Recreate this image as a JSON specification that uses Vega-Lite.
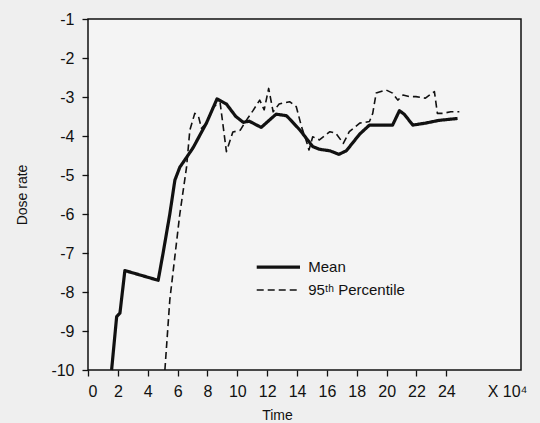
{
  "$schema": "https://vega.github.io/schema/vega-lite/v6.json",
  "width": 433,
  "height": 351,
  "autosize": {"type": "none"},
  "padding": {"left": 88, "top": 19, "right": 19, "bottom": 53},
  "background": "#efefef",
  "config": {
    "font": "Liberation Sans",
    "view": {"stroke": "#111111", "strokeWidth": 1.5, "fill": "#f4f4f4"},
    "axis": {"grid": false, "domain": false, "labelOverlap": false, "tickColor": "#111111", "tickWidth": 1.3, "tickSize": 6, "labelColor": "#111111", "labelFontSize": 16, "titleColor": "#111111", "titleFontWeight": "normal", "labelExpr": "'' + datum.value"}
  },
  "datasets": {
    "curves": [
      {"series": "Mean", "time": 1.58, "dose": -10},
      {"series": "Mean", "time": 1.92, "dose": -8.63},
      {"series": "Mean", "time": 2.14, "dose": -8.54},
      {"series": "Mean", "time": 2.47, "dose": -7.45},
      {"series": "Mean", "time": 4.7, "dose": -7.7},
      {"series": "Mean", "time": 5.03, "dose": -7.0},
      {"series": "Mean", "time": 5.48, "dose": -6.0},
      {"series": "Mean", "time": 5.82, "dose": -5.13},
      {"series": "Mean", "time": 6.15, "dose": -4.8},
      {"series": "Mean", "time": 6.6, "dose": -4.55},
      {"series": "Mean", "time": 7.04, "dose": -4.3},
      {"series": "Mean", "time": 7.93, "dose": -3.67},
      {"series": "Mean", "time": 8.64, "dose": -3.05},
      {"series": "Mean", "time": 9.27, "dose": -3.18},
      {"series": "Mean", "time": 9.9, "dose": -3.5},
      {"series": "Mean", "time": 10.4, "dose": -3.65},
      {"series": "Mean", "time": 10.8, "dose": -3.62},
      {"series": "Mean", "time": 11.6, "dose": -3.78},
      {"series": "Mean", "time": 12.6, "dose": -3.44},
      {"series": "Mean", "time": 13.3, "dose": -3.48},
      {"series": "Mean", "time": 14.2, "dose": -3.85},
      {"series": "Mean", "time": 15.05, "dose": -4.27},
      {"series": "Mean", "time": 15.5, "dose": -4.34},
      {"series": "Mean", "time": 16.2, "dose": -4.38},
      {"series": "Mean", "time": 16.8, "dose": -4.47},
      {"series": "Mean", "time": 17.3, "dose": -4.38},
      {"series": "Mean", "time": 18.2, "dose": -3.95},
      {"series": "Mean", "time": 18.85, "dose": -3.72},
      {"series": "Mean", "time": 19.5, "dose": -3.72},
      {"series": "Mean", "time": 20.4, "dose": -3.72},
      {"series": "Mean", "time": 20.86, "dose": -3.35},
      {"series": "Mean", "time": 21.2, "dose": -3.45},
      {"series": "Mean", "time": 21.75, "dose": -3.72},
      {"series": "Mean", "time": 22.6, "dose": -3.67},
      {"series": "Mean", "time": 23.5, "dose": -3.6},
      {"series": "Mean", "time": 24.75, "dose": -3.55},
      {"series": "P95", "time": 5.15, "dose": -10},
      {"series": "P95", "time": 5.48, "dose": -8.2},
      {"series": "P95", "time": 6.15, "dose": -6.0},
      {"series": "P95", "time": 6.6, "dose": -4.8},
      {"series": "P95", "time": 6.82, "dose": -3.85},
      {"series": "P95", "time": 7.15, "dose": -3.42},
      {"series": "P95", "time": 7.4, "dose": -3.5},
      {"series": "P95", "time": 7.6, "dose": -3.8},
      {"series": "P95", "time": 7.93, "dose": -3.67},
      {"series": "P95", "time": 8.38, "dose": -3.25},
      {"series": "P95", "time": 8.85, "dose": -3.15},
      {"series": "P95", "time": 9.27, "dose": -4.4},
      {"series": "P95", "time": 9.7, "dose": -3.9},
      {"series": "P95", "time": 10.2, "dose": -3.85},
      {"series": "P95", "time": 10.6, "dose": -3.6},
      {"series": "P95", "time": 11.05, "dose": -3.35},
      {"series": "P95", "time": 11.5, "dose": -3.08},
      {"series": "P95", "time": 11.8, "dose": -3.33},
      {"series": "P95", "time": 12.1, "dose": -2.78},
      {"series": "P95", "time": 12.4, "dose": -3.38},
      {"series": "P95", "time": 12.8, "dose": -3.18},
      {"series": "P95", "time": 13.5, "dose": -3.12},
      {"series": "P95", "time": 13.95, "dose": -3.25},
      {"series": "P95", "time": 14.3, "dose": -3.76},
      {"series": "P95", "time": 14.6, "dose": -4.1},
      {"series": "P95", "time": 14.8, "dose": -4.36},
      {"series": "P95", "time": 15.05, "dose": -4.02},
      {"series": "P95", "time": 15.5, "dose": -4.1},
      {"series": "P95", "time": 16.2, "dose": -3.89},
      {"series": "P95", "time": 16.6, "dose": -3.93},
      {"series": "P95", "time": 17.1, "dose": -4.19},
      {"series": "P95", "time": 17.5, "dose": -3.89},
      {"series": "P95", "time": 18.2, "dose": -3.67},
      {"series": "P95", "time": 18.85, "dose": -3.63},
      {"series": "P95", "time": 19.07, "dose": -3.42},
      {"series": "P95", "time": 19.3, "dose": -2.9},
      {"series": "P95", "time": 19.96, "dose": -2.82},
      {"series": "P95", "time": 20.4, "dose": -2.9},
      {"series": "P95", "time": 20.75, "dose": -3.08},
      {"series": "P95", "time": 21.1, "dose": -2.95},
      {"series": "P95", "time": 21.5, "dose": -2.99},
      {"series": "P95", "time": 21.96, "dose": -2.99},
      {"series": "P95", "time": 22.6, "dose": -3.03},
      {"series": "P95", "time": 23.2, "dose": -2.86},
      {"series": "P95", "time": 23.4, "dose": -3.42},
      {"series": "P95", "time": 23.75, "dose": -3.42},
      {"series": "P95", "time": 24.3, "dose": -3.38},
      {"series": "P95", "time": 24.87, "dose": -3.38}
    ],
    "legendLines": [
      {"series": "Mean", "time": 11.3, "time2": 14.2, "dose": -7.36},
      {"series": "P95", "time": 11.3, "time2": 14.2, "dose": -7.95}
    ],
    "legendText": [
      {"time": 14.75, "dose": -7.36, "label": "Mean"},
      {"time": 14.75, "dose": -7.95, "label": "95ᵗʰ Percentile"}
    ],
    "unit": [
      {"time": 28.1, "dose": -10, "label": "X 10⁴"}
    ]
  },
  "encoding": {
    "x": {"field": "time", "type": "quantitative", "scale": {"domain": [0, 29], "nice": false, "zero": false},
      "axis": {"values": [0, 2, 4, 6, 8, 10, 12, 14, 16, 18, 20, 22, 24], "title": "Time", "titleFontSize": 14, "titleX": 189, "titleY": 49, "titleBaseline": "alphabetic", "labelPadding": 7}},
    "y": {"field": "dose", "type": "quantitative", "scale": {"domain": [-10, -1], "nice": false, "zero": false},
      "axis": {"values": [-10, -9, -8, -7, -6, -5, -4, -3, -2, -1], "title": "Dose rate", "titleFontSize": 14, "titlePadding": 21, "labelPadding": 8}}
  },
  "layer": [
    {
      "data": {"name": "curves"},
      "mark": {"type": "line", "color": "#111111", "strokeJoin": "round"},
      "encoding": {
        "strokeDash": {"field": "series", "type": "nominal", "scale": {"domain": ["Mean", "P95"], "range": [[1, 0], [7, 4]]}, "legend": null},
        "strokeWidth": {"field": "series", "type": "nominal", "scale": {"domain": ["Mean", "P95"], "range": [3.2, 1.6]}, "legend": null}
      }
    },
    {
      "data": {"name": "legendLines"},
      "mark": {"type": "rule", "color": "#111111"},
      "encoding": {
        "x2": {"field": "time2"},
        "strokeDash": {"field": "series", "type": "nominal", "legend": null},
        "strokeWidth": {"field": "series", "type": "nominal", "legend": null}
      }
    },
    {
      "data": {"name": "legendText"},
      "mark": {"type": "text", "align": "left", "baseline": "middle", "fontSize": 15, "color": "#111111"},
      "encoding": {
        "text": {"field": "label"}
      }
    },
    {
      "data": {"name": "unit"},
      "mark": {"type": "text", "align": "center", "baseline": "top", "fontSize": 16, "dy": 14, "color": "#111111"},
      "encoding": {
        "text": {"field": "label"}
      }
    }
  ]
}
